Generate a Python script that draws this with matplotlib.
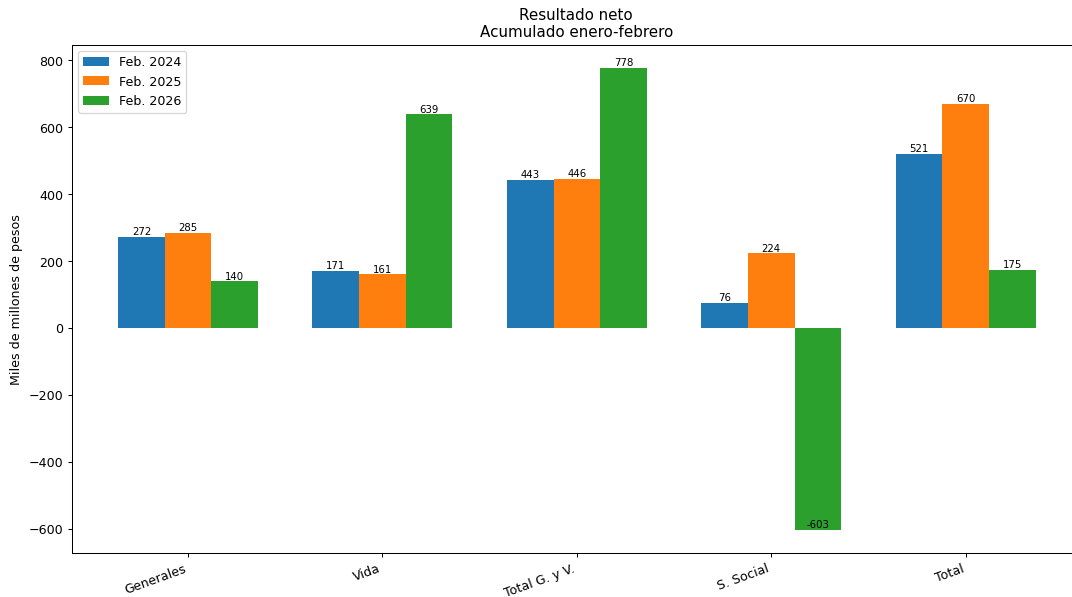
import matplotlib.pyplot as plt
import numpy as np

categorias = ['Generales', 'Vida', 'Total G. y V.', 'S. Social', 'Total']
feb_2024 = [272, 171, 443, 76, 521]
feb_2025 = [285, 161, 446, 224, 670]
feb_2026 = [140, 639, 778, -603, 175]

series = [('Feb. 2024', feb_2024), ('Feb. 2025', feb_2025), ('Feb. 2026', feb_2026)]


def plot_resultado():
    x = np.arange(len(categorias))
    ancho = 0.24

    # the reference looks like a slightly scaled-down render, so use dpi 91
    dpi = 91
    fig = plt.figure(figsize=(1072.4 / dpi, 597.4 / dpi), dpi=dpi)
    # the original picture is cropped on the right, so the axes run past the edge
    ax = fig.add_axes([72 / 1072, 44 / 597, 1039 / 1072, 508 / 597])
    for i, (nombre, valores) in enumerate(series):
        pos = x + (i - 1) * ancho
        ax.bar(pos, valores, ancho, label=nombre)
        # labels sit on the value with va='bottom', also for negatives
        for xp, v in zip(pos, valores):
            ax.text(xp, v, str(v), ha='center', va='bottom', fontsize=8)
    ax.set_xlim(-0.597, 4.75)

    ax.set_title('Resultado neto\nAcumulado enero-febrero', x=0.485)
    ax.set_ylabel('Miles de millones de pesos')
    ax.set_xticks(x)
    ax.set_xticklabels(categorias, rotation=20, ha='right')
    ax.legend(loc='upper left')

    fig.savefig('out.png', dpi=dpi)


plot_resultado()
